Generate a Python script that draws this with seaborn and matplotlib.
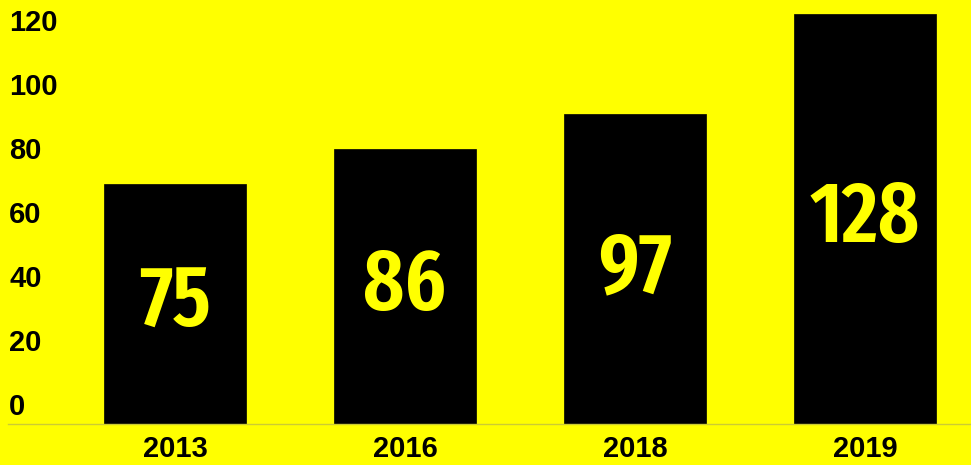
import matplotlib
matplotlib.use("Agg")
import matplotlib.pyplot as plt
import matplotlib.transforms as mtransforms
from matplotlib import font_manager
import pandas as pd
import seaborn as sns

# data
years = ["2013", "2016", "2018", "2019"]
counts = [75, 86, 97, 128]
yticks = [0, 20, 40, 60, 80, 100, 120]

yellow = "#FFFF00"

sns.set_style("white")
plt.rcParams["font.family"] = ["Liberation Sans", "DejaVu Sans"]
plt.rcParams["text.color"] = "black"
plt.rcParams["xtick.color"] = "black"
plt.rcParams["ytick.color"] = "black"


def pick_condensed():
    # look for a semibold narrow/condensed face among the installed fonts
    rank = {"ultra-condensed": 0, "extra-condensed": 1, "condensed": 2,
            "semi-condensed": 3}
    best = None
    for f in font_manager.fontManager.ttflist:
        name = (f.name + " " + f.fname).lower()
        st = f.stretch if isinstance(f.stretch, str) else ""
        narrow = st in rank or "condensed" in name or "narrow" in name
        w = f.weight if isinstance(f.weight, int) else 400
        if "semibold" in name.replace(" ", "").replace("-", ""):
            w = 600
        elif "bold" in name and "extrabold" not in name:
            w = max(w, 700)
        if not narrow or w < 500 or "italic" in name or "oblique" in name:
            continue
        r = rank.get(st, 2)
        if "extracondensed" in name.replace("-", "").replace(" ", ""):
            r = 1
        key = (abs(w - 600), r)
        if best is None or key < best[0]:
            best = (key, f.fname)
    if best:
        return font_manager.FontProperties(fname=best[1])
    return font_manager.FontProperties(family="DejaVu Sans", weight="bold")


label_font = pick_condensed()

df = pd.DataFrame({"year": years, "count": counts})

fig = plt.figure(figsize=(9.71, 4.65), dpi=100, facecolor=yellow)
ax = fig.add_axes([8 / 971, 41 / 465, 963 / 971, 424 / 465])
ax.set_facecolor(yellow)

sns.barplot(data=df, x="year", y="count", color="black", width=0.617,
            saturation=1, edgecolor="black", linewidth=0.5, ax=ax)

ax.set_xlim(-0.726, 3.461)
ax.set_ylim(0, 132.5)

# value labels centred in each bar
for i, v in enumerate(counts):
    ax.text(i, v / 2, str(v), ha="center", va="center", color=yellow,
            fontproperties=label_font, fontsize=62)

for s in ["top", "right", "left"]:
    ax.spines[s].set_visible(False)
ax.spines["bottom"].set_color("#cccc33")
ax.spines["bottom"].set_linewidth(1)

ax.set_xlabel("")
ax.set_ylabel("")
ax.set_yticks(yticks)
ax.set_yticklabels([str(t) for t in yticks])
ax.tick_params(axis="y", length=0, pad=0, labelsize=21, labelcolor="black")
ax.tick_params(axis="x", length=0, pad=8, labelsize=21, labelcolor="black")
offset = mtransforms.ScaledTranslation(1 / 100, 3 / 100, fig.dpi_scale_trans)
for lab in ax.get_yticklabels():
    lab.set_horizontalalignment("left")
    lab.set_verticalalignment("bottom")
    lab.set_fontweight("bold")
    lab.set_transform(lab.get_transform() + offset)
for lab in ax.get_xticklabels():
    lab.set_fontweight("bold")

fig.savefig("out.png", dpi=100, facecolor=yellow)
